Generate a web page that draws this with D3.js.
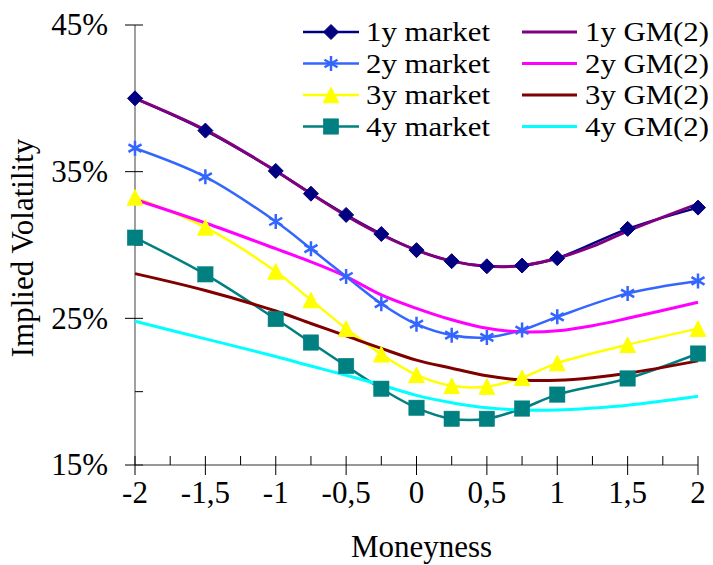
<!DOCTYPE html>
<html>
<head>
<meta charset="utf-8">
<script src="https://cdn.jsdelivr.net/npm/d3@7"></script>
<style>
  html, body { margin: 0; padding: 0; background: #fff; }
  svg { display: block; }
</style>
</head>
<body>
<svg id="chart" width="713" height="565" font-family="'Times New Roman', 'Liberation Serif', 'DejaVu Serif', serif"></svg>
<script>
// Moneyness grid of the market quotes
const marketX = [-2, -1.5, -1, -0.75, -0.5, -0.25, 0, 0.25, 0.5, 0.75, 1, 1.5, 2];

// Market implied volatilities (%)
const market1y = [40.0, 37.8, 35.05, 33.5, 32.05, 30.75, 29.65, 28.9, 28.55, 28.6, 29.1, 31.1, 32.55];
const market2y = [36.6, 34.65, 31.6, 29.75, 27.85, 26.0, 24.6, 23.85, 23.7, 24.2, 25.1, 26.7, 27.55];
const market3y = [33.25, 31.2, 28.2, 26.25, 24.3, 22.55, 21.15, 20.4, 20.35, 20.95, 21.95, 23.2, 24.3];
const market4y = [30.5, 28.0, 24.95, 23.35, 21.75, 20.2, 18.9, 18.15, 18.15, 18.85, 19.8, 20.9, 22.6];

// GM(2) model-implied volatilities (%)
const modelX = [-2, -1.5, -1, -0.75, -0.5, -0.25, 0, 0.25, 0.5, 0.75, 1, 1.25, 1.5, 2];
const model1y = [40.0, 37.85, 35.05, 33.5, 32.0, 30.7, 29.65, 28.9, 28.55, 28.6, 29.1, 29.9, 30.95, 32.8];
const model2y = [33.1, 31.5, 29.75, 28.85, 27.85, 26.6, 25.68, 24.9, 24.32, 24.08, 24.15, 24.5, 25.0, 26.1];
const model3y = [28.05, 26.9, 25.5, 24.65, 23.8, 22.95, 22.15, 21.6, 21.08, 20.8, 20.78, 20.95, 21.25, 22.1];
const model4y = [24.8, 23.6, 22.4, 21.75, 21.12, 20.45, 19.75, 19.25, 18.9, 18.75, 18.75, 18.88, 19.07, 19.68];

// Axis ticks
const yMajor = [15, 25, 35, 45];
const yMinor = [20, 30, 40];
const xMajor = [-2, -1.5, -1, -0.5, 0, 0.5, 1, 1.5, 2];
const xMinor = [-1.75, -1.25, -0.75, -0.25, 0.25, 0.75, 1.25, 1.75];

const marketSeries = [
  { name: "1y market", values: market1y, color: "#000080", marker: "diamond" },
  { name: "2y market", values: market2y, color: "#3366FF", marker: "star" },
  { name: "3y market", values: market3y, color: "#FFFF00", marker: "triangle" },
  { name: "4y market", values: market4y, color: "#008080", marker: "square" }
];
const modelSeries = [
  { name: "1y GM(2)", values: model1y, color: "#800080" },
  { name: "2y GM(2)", values: model2y, color: "#FF00FF" },
  { name: "3y GM(2)", values: model3y, color: "#800000" },
  { name: "4y GM(2)", values: model4y, color: "#00FFFF" }
];

const FS = 31;       // axis text size
const LEG_FS = 28;   // legend text size
const svg = d3.select("#chart");
const x = d3.scaleLinear().domain([-2, 2]).range([135, 698]);
const y = d3.scaleLinear().domain([15, 45]).range([465, 25]);

const fmtX = d => String(d).replace(".", ",");
const fmtY = d => d + "%";

// Y axis
const yAxis = svg.append("g").attr("transform", `translate(${x(-2)},0)`);
yAxis.append("line").attr("x1", 0).attr("x2", 0).attr("y1", y(15)).attr("y2", y(45))
  .attr("stroke", "#808080").attr("stroke-width", 1.5);
yAxis.selectAll("line.major").data(yMajor).join("line").attr("class", "major")
  .attr("x1", -10).attr("x2", 8).attr("y1", d => y(d)).attr("y2", d => y(d))
  .attr("stroke", "#000").attr("stroke-width", 1);
yAxis.selectAll("line.minor").data(yMinor).join("line").attr("class", "minor")
  .attr("x1", 0).attr("x2", 8).attr("y1", d => y(d)).attr("y2", d => y(d))
  .attr("stroke", "#000").attr("stroke-width", 1);
yAxis.selectAll("text").data(yMajor).join("text")
  .attr("x", -27).attr("y", d => y(d)).attr("dy", "0.33em")
  .attr("text-anchor", "end").attr("font-size", FS).text(fmtY);

// X axis
const xAxis = svg.append("g").attr("transform", `translate(0,${y(15)})`);
xAxis.append("line").attr("x1", x(-2)).attr("x2", x(2)).attr("y1", 0).attr("y2", 0)
  .attr("stroke", "#333").attr("stroke-width", 1.2);
xAxis.selectAll("line.major").data(xMajor).join("line").attr("class", "major")
  .attr("x1", d => x(d)).attr("x2", d => x(d)).attr("y1", -9).attr("y2", 10)
  .attr("stroke", "#000").attr("stroke-width", 1);
xAxis.selectAll("line.minor").data(xMinor).join("line").attr("class", "minor")
  .attr("x1", d => x(d)).attr("x2", d => x(d)).attr("y1", -9).attr("y2", 0)
  .attr("stroke", "#000").attr("stroke-width", 1);
xAxis.selectAll("text").data(xMajor).join("text")
  .attr("x", d => x(d)).attr("y", 38)
  .attr("text-anchor", "middle").attr("font-size", FS).text(fmtX);

// Axis titles
svg.append("text").attr("x", x(0) + 5).attr("y", 557).attr("text-anchor", "middle")
  .attr("font-size", FS).text("Moneyness");
svg.append("text").attr("transform", `translate(33,248) rotate(-90)`)
  .attr("text-anchor", "middle").attr("font-size", FS).text("Implied Volatility");

// Lines (smoothed)
const plot = svg.append("g");
const marketLine = d3.line().x((d, i) => x(marketX[i])).y(d => y(d)).curve(d3.curveCatmullRom.alpha(0.5));
const modelLine = d3.line().x((d, i) => x(modelX[i])).y(d => y(d)).curve(d3.curveCatmullRom.alpha(0.5));

marketSeries.forEach(s => {
  plot.append("path").attr("d", marketLine(s.values)).attr("fill", "none")
    .attr("stroke", s.color).attr("stroke-width", 2.5).attr("stroke-linejoin", "round");
});
modelSeries.forEach(s => {
  plot.append("path").attr("d", modelLine(s.values)).attr("fill", "none")
    .attr("stroke", s.color).attr("stroke-width", 3).attr("stroke-linejoin", "round");
});

// Markers
function drawMarker(g, type, cx, cy, color) {
  if (type === "diamond") {
    const r = 7.5;
    g.append("path").attr("d", `M${cx},${cy - r}L${cx + r},${cy}L${cx},${cy + r}L${cx - r},${cy}Z`)
      .attr("fill", color).attr("stroke", color).attr("stroke-width", 1);
  } else if (type === "square") {
    const h = 7.7;
    g.append("rect").attr("x", cx - h).attr("y", cy - h).attr("width", 2 * h).attr("height", 2 * h)
      .attr("fill", color).attr("stroke", color).attr("stroke-width", 0.5);
  } else if (type === "triangle") {
    const h = 7.8;
    g.append("path").attr("d", `M${cx},${cy - h}L${cx + h},${cy + h}L${cx - h},${cy + h}Z`)
      .attr("fill", color).attr("stroke", color).attr("stroke-width", 1);
  } else if (type === "star") {
    const r = 7.5, dx = r * 0.87, dy = r * 0.5;
    g.append("path").attr("d",
      `M${cx},${cy - r}L${cx},${cy + r}M${cx - dx},${cy - dy}L${cx + dx},${cy + dy}M${cx - dx},${cy + dy}L${cx + dx},${cy - dy}`)
      .attr("stroke", color).attr("stroke-width", 2.5).attr("fill", "none");
  }
}

marketSeries.forEach(s => {
  const g = plot.append("g");
  s.values.forEach((v, i) => drawMarker(g, s.marker, x(marketX[i]), y(v), s.color));
});

// Legend: two columns, text slightly widened
const legend = svg.append("g");
const rowY = [32, 63.5, 95, 126.5];
function legendText(tx, ty, label) {
  legend.append("text").attr("transform", `translate(${tx},${ty}) scale(1.1,1)`)
    .attr("dy", "0.33em").attr("font-size", LEG_FS).text(label);
}
marketSeries.forEach((s, i) => {
  const ly = rowY[i];
  legend.append("line").attr("x1", 303).attr("x2", 359).attr("y1", ly).attr("y2", ly)
    .attr("stroke", s.color).attr("stroke-width", 2.5);
  drawMarker(legend, s.marker, 331, ly, s.color);
  legendText(366, ly, s.name);
});
modelSeries.forEach((s, i) => {
  const ly = rowY[i];
  legend.append("line").attr("x1", 522).attr("x2", 577).attr("y1", ly).attr("y2", ly)
    .attr("stroke", s.color).attr("stroke-width", 3);
  legendText(585, ly, s.name);
});
</script>
</body>
</html>
